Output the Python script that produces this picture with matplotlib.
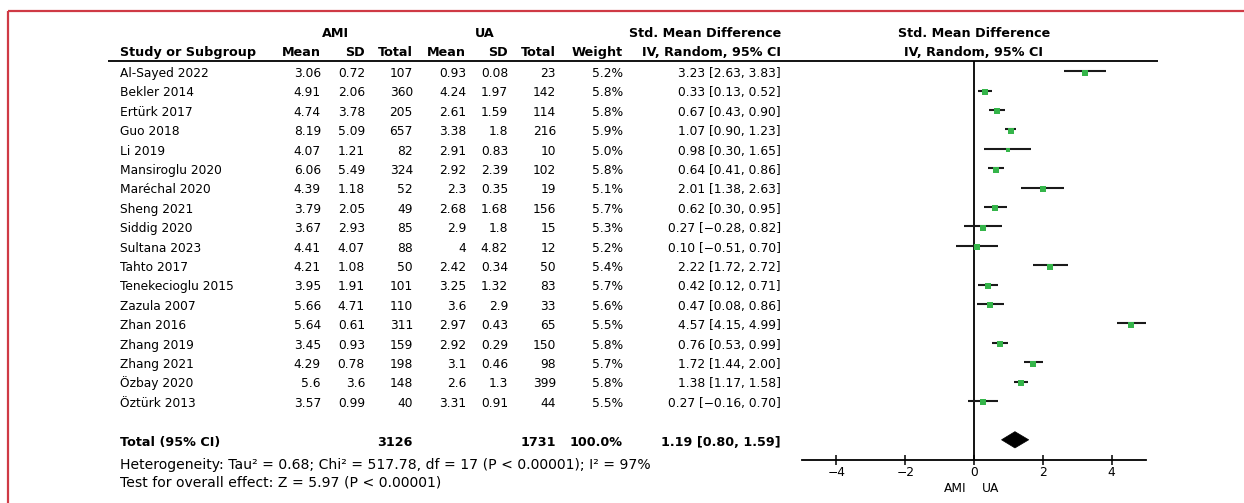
import matplotlib
matplotlib.use("Agg")
import matplotlib.pyplot as plt
from matplotlib.patches import Rectangle, Polygon
import numpy as np

# ---- study data -------------------------------------------------------
studies = ["Al-Sayed 2022", "Bekler 2014", "Ertürk 2017", "Guo 2018", "Li 2019",
           "Mansiroglu 2020", "Maréchal 2020", "Sheng 2021", "Siddig 2020",
           "Sultana 2023", "Tahto 2017", "Tenekecioglu 2015", "Zazula 2007",
           "Zhan 2016", "Zhang 2019", "Zhang 2021", "Özbay 2020", "Öztürk 2013"]
ami_mean = [3.06, 4.91, 4.74, 8.19, 4.07, 6.06, 4.39, 3.79, 3.67, 4.41, 4.21, 3.95,
            5.66, 5.64, 3.45, 4.29, 5.6, 3.57]
ami_sd = [0.72, 2.06, 3.78, 5.09, 1.21, 5.49, 1.18, 2.05, 2.93, 4.07, 1.08, 1.91,
          4.71, 0.61, 0.93, 0.78, 3.6, 0.99]
ami_n = [107, 360, 205, 657, 82, 324, 52, 49, 85, 88, 50, 101, 110, 311, 159, 198, 148, 40]
ua_mean = [0.93, 4.24, 2.61, 3.38, 2.91, 2.92, 2.3, 2.68, 2.9, 4, 2.42, 3.25,
           3.6, 2.97, 2.92, 3.1, 2.6, 3.31]
ua_sd = [0.08, 1.97, 1.59, 1.8, 0.83, 2.39, 0.35, 1.68, 1.8, 4.82, 0.34, 1.32,
         2.9, 0.43, 0.29, 0.46, 1.3, 0.91]
ua_n = [23, 142, 114, 216, 10, 102, 19, 156, 15, 12, 50, 83, 33, 65, 150, 98, 399, 44]
weights = [5.2, 5.8, 5.8, 5.9, 5.0, 5.8, 5.1, 5.7, 5.3, 5.2, 5.4, 5.7, 5.6, 5.5,
           5.8, 5.7, 5.8, 5.5]
smd = [3.23, 0.33, 0.67, 1.07, 0.98, 0.64, 2.01, 0.62, 0.27, 0.10, 2.22, 0.42,
       0.47, 4.57, 0.76, 1.72, 1.38, 0.27]
ci_low = [2.63, 0.13, 0.43, 0.90, 0.30, 0.41, 1.38, 0.30, -0.28, -0.51, 1.72, 0.12,
          0.08, 4.15, 0.53, 1.44, 1.17, -0.16]
ci_high = [3.83, 0.52, 0.90, 1.23, 1.65, 0.86, 2.63, 0.95, 0.82, 0.70, 2.72, 0.71,
           0.86, 4.99, 0.99, 2.00, 1.58, 0.70]

# pooled estimate and statistics
total_ami = 3126
total_ua = 1731
total_weight = 100.0
pooled = 1.19
pooled_low = 0.80
pooled_high = 1.59
tau2 = 0.68
chi2 = 517.78
dof = 17
i2 = 97
z_value = 5.97

x_ticks = [-4, -2, 0, 2, 4]

# ---- figure ---------------------------------------------------------
W, H = 1244, 503
fig = plt.figure(figsize=(W / 100, H / 100), dpi=100)
plt.rcParams["font.family"] = ["DejaVu Sans"]
FS = 8.85
FS_HEAD = 9.2
GREEN = "#35b54a"
RED = "#cf3a45"

bg = fig.add_axes([0, 0, 1, 1])
bg.set_xlim(0, W)
bg.set_ylim(H, 0)
bg.axis("off")

# frame
bg.add_patch(Rectangle((8, 11), W, H, fill=False, edgecolor=RED, lw=1.6))

ROW0 = 77.0
DY = 19.4


def base(i):
    return ROW0 + DY * i


def fmt(v):
    return f"{v:g}"


def ci_text(m, lo, hi):
    s = f"{m:.2f} [{lo:.2f}, {hi:.2f}]"
    return s.replace("-", "\u2212")


# column anchors (right edges except the study column)
X_STUDY = 120
X_AMI_MEAN, X_AMI_SD, X_AMI_N = 321, 365, 413
X_UA_MEAN, X_UA_SD, X_UA_N = 466, 508, 556
X_WEIGHT = 623
X_CI = 781
X_ZERO_PX = 974

# headers
hb = dict(fontsize=FS_HEAD, fontweight="bold", va="baseline")
bg.text(336, 37, "AMI", ha="center", **hb)
bg.text(485, 37, "UA", ha="center", **hb)
bg.text(X_CI, 37, "Std. Mean Difference", ha="right", **hb)
bg.text(X_ZERO_PX, 37, "Std. Mean Difference", ha="center", **hb)
bg.text(X_ZERO_PX, 56, "IV, Random, 95% CI", ha="center", **hb)
bg.text(X_STUDY, 56, "Study or Subgroup", ha="left", **hb)
for x, lab in [(X_AMI_MEAN, "Mean"), (X_AMI_SD, "SD"), (X_AMI_N, "Total"),
               (X_UA_MEAN, "Mean"), (X_UA_SD, "SD"), (X_UA_N, "Total"),
               (X_WEIGHT, "Weight"), (X_CI, "IV, Random, 95% CI")]:
    bg.text(x, 56, lab, ha="right", **hb)
bg.plot([108, 1158], [61, 61], color="black", lw=1.3, solid_capstyle="butt")

# study rows
tr = dict(fontsize=FS, va="baseline")
for i, name in enumerate(studies):
    y = base(i)
    bg.text(X_STUDY, y, name, ha="left", **tr)
    bg.text(X_AMI_MEAN, y, fmt(ami_mean[i]), ha="right", **tr)
    bg.text(X_AMI_SD, y, fmt(ami_sd[i]), ha="right", **tr)
    bg.text(X_AMI_N, y, str(ami_n[i]), ha="right", **tr)
    bg.text(X_UA_MEAN, y, fmt(ua_mean[i]), ha="right", **tr)
    bg.text(X_UA_SD, y, fmt(ua_sd[i]), ha="right", **tr)
    bg.text(X_UA_N, y, str(ua_n[i]), ha="right", **tr)
    bg.text(X_WEIGHT, y, f"{weights[i]:.1f}%", ha="right", **tr)
    bg.text(X_CI, y, ci_text(smd[i], ci_low[i], ci_high[i]), ha="right", **tr)

# total row
TOTAL_ROW = len(studies) + 1
yt = base(TOTAL_ROW)
bg.text(X_STUDY, yt, "Total (95% CI)", ha="left", **hb)
bg.text(X_AMI_N, yt, str(total_ami), ha="right", **hb)
bg.text(X_UA_N, yt, str(total_ua), ha="right", **hb)
bg.text(X_WEIGHT, yt, f"{total_weight:.1f}%", ha="right", **hb)
bg.text(X_CI, yt, ci_text(pooled, pooled_low, pooled_high), ha="right", **hb)

# summary statistics
foot = dict(fontsize=10.1, va="baseline", ha="left")
bg.text(X_STUDY, 469,
        f"Heterogeneity: Tau\u00b2 = {tau2:.2f}; Chi\u00b2 = {chi2:.2f}, df = {dof} "
        f"(P < 0.00001); I\u00b2 = {i2}%", **foot)
bg.text(X_STUDY, 487, f"Test for overall effect: Z = {z_value:.2f} (P < 0.00001)", **foot)

# ---- forest plot ----------------------------------------------------
AX_L, AX_R, AX_T, AX_B = 802, 1146, 61, 460
ax = fig.add_axes([AX_L / W, 1 - AX_B / H, (AX_R - AX_L) / W, (AX_B - AX_T) / H])
ax.patch.set_alpha(0)
ax.set_xlim(-5, 5)
# row index -> pixel: line centre sits ~1.5 px above the text centre
line_off = -1.5 - 4.3
y_top = (AX_T - (ROW0 + line_off)) / DY
y_bot = (AX_B - (ROW0 + line_off)) / DY
ax.set_ylim(y_bot, y_top)

for i in range(len(studies)):
    ax.plot([ci_low[i], ci_high[i]], [i, i], color="#1a1a1a", lw=1.5,
            solid_capstyle="butt", zorder=2)
    ax.plot(smd[i], i + 0.07, marker="s", color=GREEN, ms=1.6 * np.sqrt(weights[i]),
            mec=GREEN, mew=0, zorder=3)

ax.add_patch(Polygon([(pooled_low, TOTAL_ROW), (pooled, TOTAL_ROW - 0.42),
                      (pooled_high, TOTAL_ROW), (pooled, TOTAL_ROW + 0.42)],
                     closed=True, facecolor="black", edgecolor="black", lw=0.5,
                     zorder=3))
ax.axvline(0, color="black", lw=1.3, zorder=1)

for side in ("top", "right", "left"):
    ax.spines[side].set_visible(False)
ax.spines["bottom"].set_linewidth(1.3)
ax.set_yticks([])
ax.set_xticks(x_ticks)
ax.tick_params(axis="x", direction="inout", length=7, width=1.1, labelsize=FS, pad=1)

bg.text(955, 492, "AMI", ha="center", **tr)
bg.text(991, 492, "UA", ha="center", **tr)

fig.savefig("out.png", dpi=100)
